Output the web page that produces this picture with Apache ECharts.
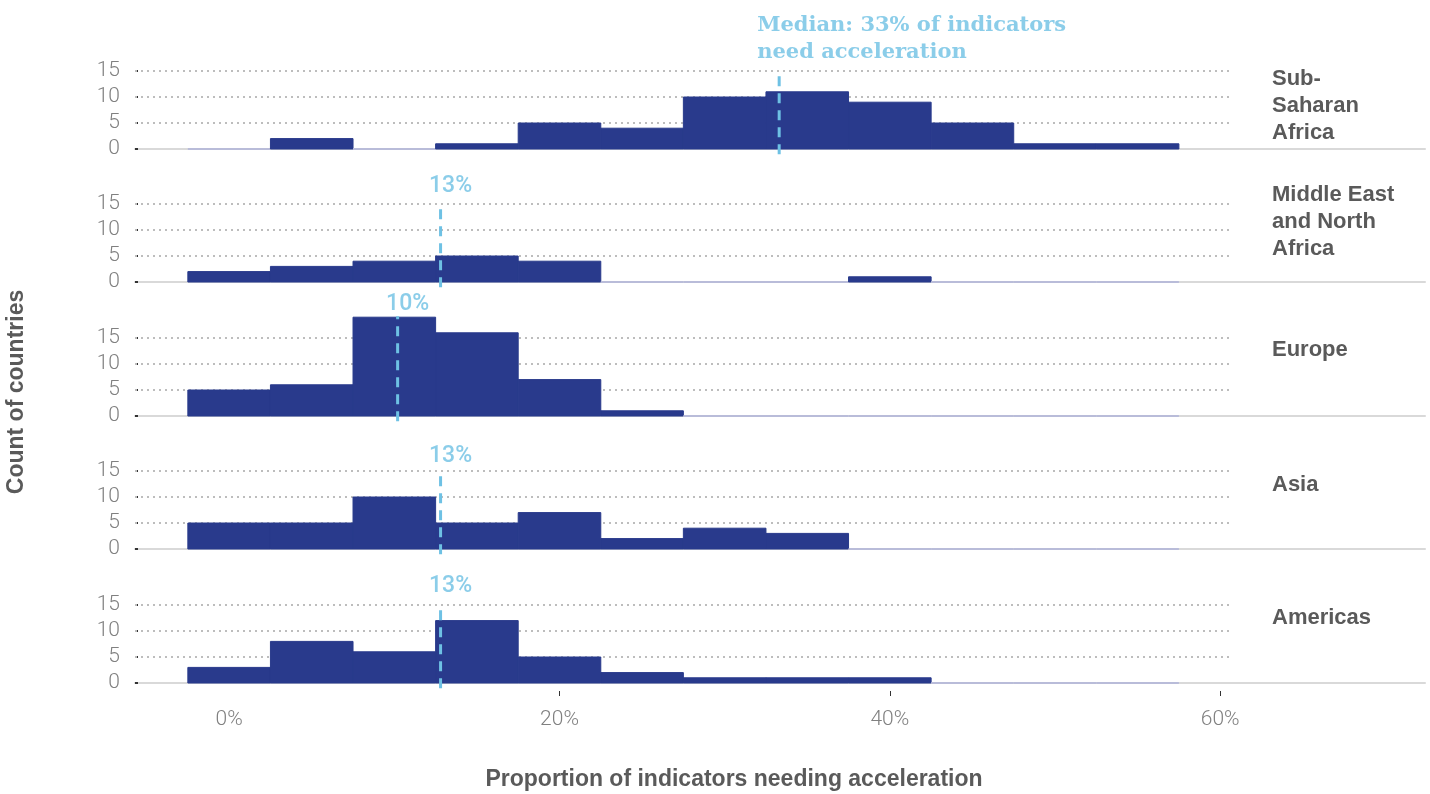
<!DOCTYPE html>
<html>
<head>
<meta charset="utf-8">
<script src="https://cdn.jsdelivr.net/npm/echarts@6/dist/echarts.min.js"></script>
<style>
  html, body { margin: 0; padding: 0; background: #fff; }
  #chart { width: 1430px; height: 794px; }
</style>
</head>
<body>
<div id="chart"></div>
<script>
// bin centres (% of indicators needing acceleration), 5-point wide bins
const binCenters = [0, 5, 10, 15, 20, 25, 30, 35, 40, 45, 50, 55];
const binWidth = 5;

const regionNames = ["Sub-\nSaharan\nAfrica", "Middle East\nand North\nAfrica", "Europe", "Asia", "Americas"];

const subSaharanCounts = [0, 2, 0, 1, 5, 4, 10, 11, 9, 5, 1, 1];
const menaCounts       = [2, 3, 4, 5, 4, 0, 0, 0, 1, 0, 0, 0];
const europeCounts     = [5, 6, 19, 16, 7, 1, 0, 0, 0, 0, 0, 0];
const asiaCounts       = [5, 5, 10, 5, 7, 2, 4, 3, 0, 0, 0, 0];
const americasCounts   = [3, 8, 6, 12, 5, 2, 1, 1, 1, 0, 0, 0];
const regionCounts = [subSaharanCounts, menaCounts, europeCounts, asiaCounts, americasCounts];

const medianValues = [33.3, 12.8, 10.2, 12.8, 12.8];
const medianLabels = ["Median: 33% of indicators\nneed acceleration", "13%", "10%", "13%", "13%"];
const medianTops   = [14.6, 14.8, 19.2, 14.6, 14.4];

const yTicks = [0, 5, 10, 15];
const xTickLabels = [0, 20, 40, 60];
const xTickMarks = [20, 40, 60];

// layout
const X_MIN = -5.7, X_MAX = 72.4, GRID_END = 60.7;
const gridTops = [71, 204, 338, 471, 605];
const gridHeight = 78;
const titleTops = [65, 181, 336, 471, 604];
const labelDist = [7, 5, -2, 3, 8];

const NAVY = "#293a8c";
const ZERO = "#b9bcd9";
const BLUE = "#6ec1e4";
const GREY_TXT = "#808080";
const DARK_TXT = "#5a5a5a";

const grids = [], xAxes = [], yAxes = [], series = [], titles = [];

regionCounts.forEach((counts, i) => {
  const last = i === regionCounts.length - 1;
  grids.push({ left: 135, right: 5, top: gridTops[i], height: gridHeight });

  xAxes.push({
    type: "value", gridIndex: i, min: X_MIN, max: X_MAX,
    axisLine: { show: true, lineStyle: { color: "#d9d9d9", width: 2 } },
    axisTick: { show: false }, axisLabel: { show: false }, splitLine: { show: false }
  });

  yAxes.push({
    type: "value", gridIndex: i, min: 0, max: 15, interval: 5,
    axisLine: { show: false, onZero: false },
    axisTick: { show: true, inside: true, length: 3, lineStyle: { color: "#333", width: 2 } },
    axisLabel: { margin: 15, color: GREY_TXT, fontFamily: "Roboto", fontWeight: 300, fontSize: 21 },
    splitLine: { show: false }
  });

  // dotted gridlines
  series.push({
    type: "line", xAxisIndex: i, yAxisIndex: i, data: [], silent: true, z: 1,
    markLine: {
      z: 1, silent: true, symbol: "none", label: { show: false }, animation: false,
      lineStyle: { color: "#bdbdbd", width: 2, type: [2, 4] },
      data: yTicks.filter(v => v > 0).map(v => [{ coord: [X_MIN, v] }, { coord: [GRID_END, v] }])
    }
  });

  series.push({
    type: "custom", xAxisIndex: i, yAxisIndex: i, z: 3, clip: false,
    data: binCenters.map((c, k) => [c - binWidth / 2, c + binWidth / 2, counts[k]]),
    renderItem: (params, api) => {
      const x0 = api.value(0), x1 = api.value(1), n = api.value(2);
      const p0 = api.coord([x0, n]);
      const p1 = api.coord([x1, 0]);
      if (n === 0) {
        return { type: "rect", shape: { x: p0[0], y: p1[1] - 1, width: p1[0] - p0[0], height: 2 }, style: { fill: ZERO } };
      }
      return {
        type: "rect",
        shape: { x: p0[0], y: p0[1], width: p1[0] - p0[0], height: p1[1] - p0[1] },
        style: { fill: NAVY, stroke: NAVY, lineWidth: 1 }
      };
    }
  });

  // median line
  series.push({
    type: "line", xAxisIndex: i, yAxisIndex: i, z: 5, clip: false, silent: true,
    symbol: "none", animation: false,
    data: [[medianValues[i], -1], [medianValues[i], medianTops[i]]],
    lineStyle: { color: BLUE, width: 3, type: [10, 7] }
  });

  const ssa = i === 0;
  series.push({
    type: "scatter", xAxisIndex: i, yAxisIndex: i, z: 6, clip: false, silent: true,
    symbolSize: 0,
    data: [[medianValues[i], medianTops[i]]],
    label: {
      show: true, position: "top", distance: labelDist[i],
      formatter: medianLabels[i],
      color: BLUE,
      align: ssa ? "left" : "center",
      offset: ssa ? [-22, 0] : [10, 0],
      fontFamily: ssa ? "DejaVu Serif" : "Roboto",
      fontWeight: ssa ? "bold" : 500,
      fontSize: ssa ? 21 : 23,
      lineHeight: 27
    }
  });

  titles.push({
    text: regionNames[i], left: 1272, top: titleTops[i], padding: 0,
    textStyle: { color: DARK_TXT, fontFamily: "Liberation Sans", fontWeight: "bold", fontSize: 22, lineHeight: 27 }
  });

  if (last) {
    xAxes.push({
      type: "value", gridIndex: i, min: X_MIN, max: X_MAX, offset: 8, position: "bottom",
      axisLine: { show: false },
      axisTick: { show: true, length: 5, customValues: xTickMarks, lineStyle: { color: "#333", width: 1 } },
      axisLabel: {
        show: true, customValues: xTickLabels, formatter: "{value}%", margin: 18,
        color: GREY_TXT, fontFamily: "Roboto", fontWeight: 300, fontSize: 21
      },
      splitLine: { show: false }
    });
  }
});

const chart = echarts.init(document.getElementById("chart"));
chart.setOption({
  animation: false,
  title: titles,
  grid: grids,
  xAxis: xAxes,
  yAxis: yAxes,
  series: series,
  graphic: [
    {
      type: "text", x: 17, y: 392, rotation: Math.PI / 2,
      style: { text: "Count of countries", fill: DARK_TXT, font: "bold 23px 'Liberation Sans'", align: "center", verticalAlign: "middle" }
    },
    {
      type: "text", x: 734, y: 780,
      style: { text: "Proportion of indicators needing acceleration", fill: DARK_TXT, font: "bold 23px 'Liberation Sans'", align: "center", verticalAlign: "middle" }
    }
  ]
});
</script>
</body>
</html>
